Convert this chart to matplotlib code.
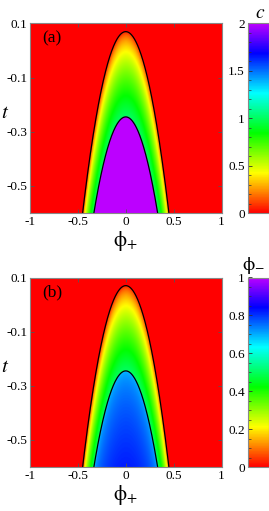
import numpy as np
import matplotlib
matplotlib.use("Agg")
from matplotlib import pyplot as plt
from matplotlib.colors import hsv_to_rgb, ListedColormap
from matplotlib.ticker import MultipleLocator

plt.rcParams['font.family'] = ['Liberation Serif', 'DejaVu Serif']
plt.rcParams['mathtext.fontset'] = 'stix'
plt.rcParams['axes.unicode_minus'] = False

# boundaries: t = apex - curv * phi_+^2
apex_t = [0.07, -0.245]        # outer, inner
curv = [3.3, 3.2]
# phi_- levels: top of the middle band, inner region at its edge and at the bottom centre
phim_mid_max = 0.5
phim_inner = [0.68, 0.82]
c_mid_max = 1.0
c_inner = 2.0

xticks = [-1, -0.5, 0, 0.5, 1]
xlabels = ['-1', '-0.5', '0', '0.5', '1']
yticks = [0.1, -0.1, -0.3, -0.5]
ylabels = ['0.1', '-0.1', '-0.3', '-0.5']

# rainbow red -> violet
hues = np.linspace(0, 0.79, 256)
cols = hsv_to_rgb(np.stack([hues, np.ones(256), np.ones(256)], axis=1))
rainbow = ListedColormap(cols)

phi = np.linspace(-1, 1, 500)
t = np.linspace(-0.6, 0.1, 400)
P, T = np.meshgrid(phi, t)
t_out = apex_t[0] - curv[0] * P**2
t_in = apex_t[1] - curv[1] * P**2
s = np.clip((t_out - T) / (t_out - t_in), 0, 1) ** 0.6
depth = np.sqrt(np.clip((t_in - T) / (t_in.max() + 0.6), 0, 1))

c = np.where(T > t_out, 0, np.where(T > t_in, c_mid_max * s, c_inner))
phim = np.where(T > t_out, 0, np.where(T > t_in, phim_mid_max * s,
                phim_inner[0] + (phim_inner[1] - phim_inner[0]) * depth))

W, H = 269, 511
fig = plt.figure(figsize=(W / 100, H / 100), dpi=100)

panels = [(c, 2, 0.5, 0.1, 213, '(a)', r'$c$'),
          (phim, 1, 0.2, 0.05, 467, '(b)', r'$\mathrm{\phi}_{-}$')]
pl = np.linspace(-0.5, 0.5, 400)
for field, vmax, major, minor, bot, tag, clab in panels:
    ax = fig.add_axes([30 / W, 1 - bot / H, 191.5 / W, 189.5 / H])
    im = ax.imshow(field, origin='lower', extent=[-1, 1, -0.6, 0.1], aspect='auto',
                   cmap=rainbow, vmin=0, vmax=vmax, interpolation='bilinear')
    for a, b in zip(apex_t, curv):
        ax.plot(pl, a - b * pl**2, color='black', lw=0.9)
    ax.set_xlim(-1, 1)
    ax.set_ylim(-0.6, 0.1)
    ax.set_xticks(xticks, xlabels)
    ax.set_yticks(yticks, ylabels)
    ax.tick_params(direction='in', top=True, right=True, length=3, width=0.6,
                   labelsize=9.5, pad=2, color='#555555')
    for sp in ax.spines.values():
        sp.set_color('#888888')
        sp.set_linewidth(0.8)
    ax.set_xlabel(r'$\mathrm{\phi}_{+}$', fontsize=15, labelpad=1)
    fig.text(5 / W, 1 - (bot - 100) / H, r'$t$', fontsize=15, ha='center', va='center')
    ax.text(0.065, 0.965, tag, transform=ax.transAxes, fontsize=12.5, va='top')

    cax = fig.add_axes([247.5 / W, 1 - bot / H, 21 / W, 189.5 / H])
    cb = fig.colorbar(im, cax=cax)
    cb.outline.set_edgecolor('#888888')
    cb.outline.set_linewidth(0.8)
    cax.yaxis.set_ticks_position('left')
    cax.yaxis.set_label_position('left')
    cax.yaxis.set_major_locator(MultipleLocator(major))
    cax.yaxis.set_minor_locator(MultipleLocator(minor))
    cax.yaxis.set_major_formatter(plt.FuncFormatter(lambda v, p: f'{v:g}'))
    cax.tick_params(which='both', direction='in', labelsize=9.5, pad=2, color='#333333')
    cax.tick_params(which='major', length=3, width=0.6)
    cax.tick_params(which='minor', length=2, width=0.5)
    fig.text(265 / W, 1 - (bot - 189.5 - 2) / H, clab, fontsize=14, ha='right', va='bottom')

fig.savefig('out.png', dpi=100)
